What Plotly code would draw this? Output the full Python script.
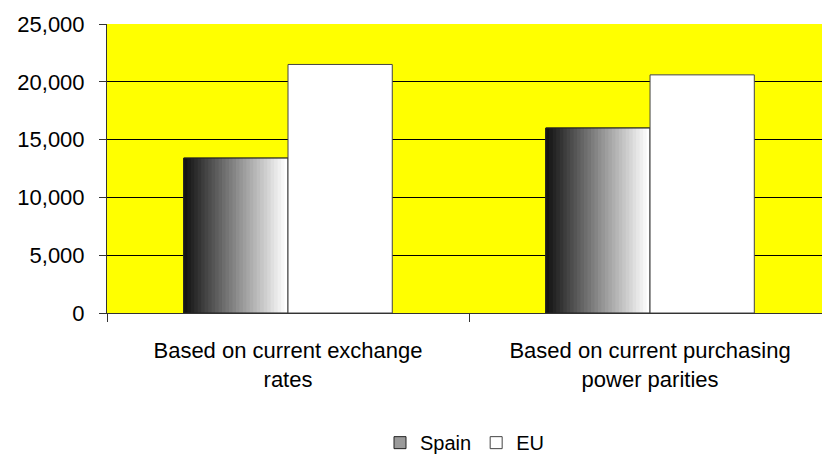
import plotly.graph_objects as go

# GDP per head, in euros
categories = [
    "Based on current exchange<br>rates",
    "Based on current purchasing<br>power parities",
]
spain = [13400, 16000]
eu = [21500, 20600]

y_ticks = [0, 5000, 10000, 15000, 20000, 25000]

BAR_W = 0.288          # width of one bar, in category units
N_BANDS = 30           # steps in the Spain shading
FONT = "Liberation Sans, Arial, sans-serif"

fig = go.Figure()

# Spain: legend entry and base fill
fig.add_trace(go.Bar(
    name="Spain", x=categories, y=spain,
    offset=-BAR_W, width=BAR_W,
    marker=dict(color="#9a9a9a", line=dict(color="#222222", width=1)),
    hoverinfo="skip",
))

# Spain: horizontal dark-to-white shading; each band runs to the bar's
# right edge so the next, lighter band covers it without seams
band_w = BAR_W / N_BANDS
for i in range(N_BANDS):
    g = int(round(20 + (255 - 20) * i / (N_BANDS - 1)))
    fig.add_trace(go.Bar(
        x=categories, y=spain,
        offset=-BAR_W + i * band_w, width=BAR_W - i * band_w,
        marker=dict(color=f"rgb({g},{g},{g})", line=dict(width=0)),
        showlegend=False, hoverinfo="skip",
    ))

# Spain: outline on top of the shading
fig.add_trace(go.Bar(
    x=categories, y=spain,
    offset=-BAR_W, width=BAR_W,
    marker=dict(color="rgba(0,0,0,0)", line=dict(color="#222222", width=1)),
    showlegend=False, hoverinfo="skip",
))

# EU
fig.add_trace(go.Bar(
    name="EU", x=categories, y=eu,
    offset=0, width=BAR_W,
    marker=dict(color="#ffffff", line=dict(color="#444444", width=1)),
    hoverinfo="skip",
))

fig.update_layout(
    width=822, height=454,
    margin=dict(l=107, r=0, t=24, b=141),
    barmode="overlay",
    paper_bgcolor="#ffffff",
    plot_bgcolor="#ffff00",
    font=dict(family=FONT, size=22, color="#000000"),
    showlegend=True,
    legend=dict(
        orientation="h", x=0.5, xanchor="center",
        yref="container", y=0.025, yanchor="middle",
        font=dict(size=20), itemwidth=30, bgcolor="rgba(0,0,0,0)",
    ),
    xaxis=dict(
        type="category",
        range=[-0.5, 1.475],
        showline=True, linecolor="#333333", linewidth=1,
        ticks="outside", ticklen=8, tickcolor="#333333",
        tickson="boundaries",
        showgrid=False, zeroline=False,
        ticklabelstandoff=18,
        automargin=False,
    ),
    yaxis=dict(
        range=[0, 25000],
        tickvals=y_ticks,
        tickformat=",d",
        showline=True, linecolor="#333333", linewidth=1,
        ticks="outside", ticklen=7, tickcolor="#333333",
        showgrid=True, gridcolor="#000000", gridwidth=1,
        zeroline=False,
        ticklabelstandoff=10,
        automargin=False,
    ),
)

fig.write_html("out.html")
